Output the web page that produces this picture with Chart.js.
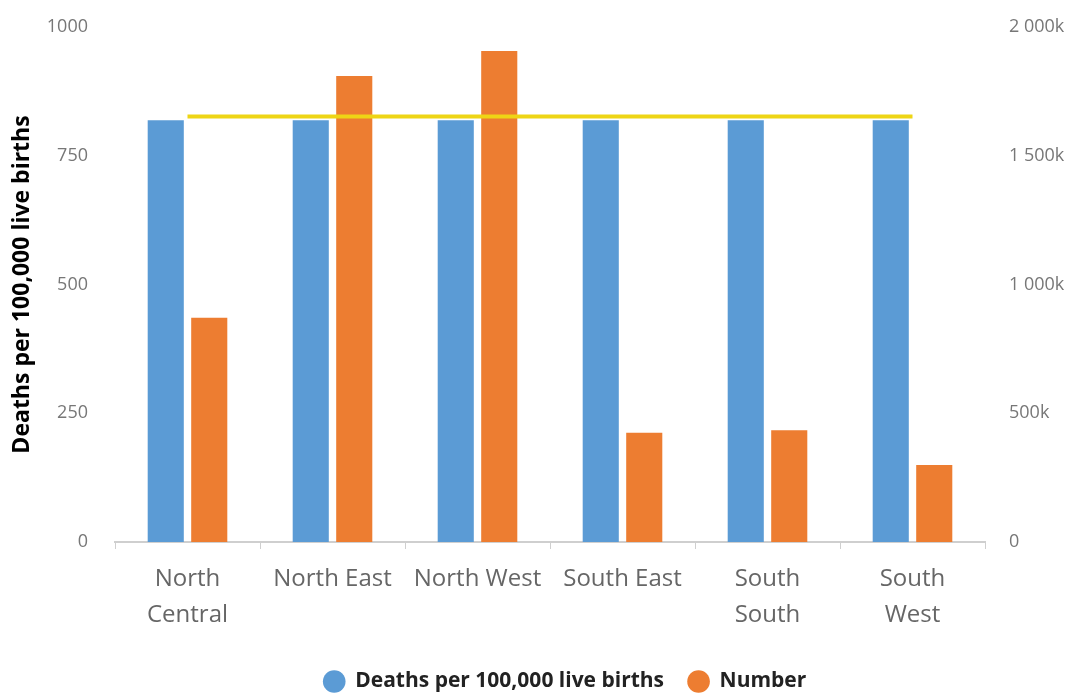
<!DOCTYPE html>
<html>
<head>
<meta charset="utf-8">
<script src="https://cdn.jsdelivr.net/npm/chart.js@4"></script>
<style>
  html, body { margin: 0; padding: 0; background: #fff; }
  #wrap { width: 1078px; height: 695px; position: relative; }
</style>
</head>
<body>
<div id="wrap"><canvas id="chart"></canvas></div>
<script>
// categories (zones)
var zones = [['North', 'Central'], 'North East', 'North West', 'South East', ['South', 'South'], ['South', 'West']];

// series values
var deathsPerBirths = [819, 819, 819, 819, 819, 819];
var numberDeaths = [871000, 1810000, 1907000, 424000, 434000, 299000];
var referenceLine = [826, 826, 826, 826, 826, 826];

// tick settings
var leftMax = 1000, leftStep = 250;
var rightMax = 2000000, rightStep = 500000;

function fmtK(v) {
    if (v === 0) return '0';
    return String(v / 1000).replace(/\B(?=(\d{3})+(?!\d))/g, ' ') + 'k';
}

// legend in the source sits a little right of centre
var legendShift = {
    id: 'legendShift',
    afterLayout: function (chart) {
        chart.legend.left += 26;
        chart.legend.right += 26;
    }
};

document.addEventListener('DOMContentLoaded', function () {
    var ctx = document.getElementById('chart').getContext('2d');

    var data = {
        labels: zones,
        datasets: [{
            type: 'line',
            label: 'Line',
            data: referenceLine,
            borderColor: '#eed515',
            borderWidth: 4,
            pointRadius: 0,
            yAxisID: 'y',
            order: 0
        }, {
            label: 'Deaths per 100,000 live births',
            data: deathsPerBirths,
            backgroundColor: '#5b9bd5',
            yAxisID: 'y',
            order: 1
        }, {
            label: 'Number',
            data: numberDeaths,
            backgroundColor: '#ed7d31',
            yAxisID: 'y1',
            order: 1
        }]
    };

    var options = {
        responsive: true,
        maintainAspectRatio: false,
        animation: false,
        categoryPercentage: 0.6,
        barPercentage: 0.83,
        layout: { padding: { top: 27, left: 0, right: 0, bottom: -7 } },
        plugins: {
            tooltip: { enabled: false },
            legend: {
                position: 'bottom',
                labels: {
                    usePointStyle: true,
                    pointStyle: 'circle',
                    boxHeight: 16,
                    padding: 24,
                    color: '#222',
                    font: { family: 'Open Sans', size: 21, weight: 'bold' },
                    filter: function (item) { return item.datasetIndex !== 0; }
                }
            }
        },
        scales: {
            x: {
                offset: true,
                grid: { display: true, drawOnChartArea: false, drawTicks: true, tickLength: 7, color: '#cfcfcf', offset: true },
                border: { display: true, color: '#cfcfcf', width: 2 },
                ticks: {
                    color: '#666',
                    padding: 12,
                    maxRotation: 0,
                    autoSkip: false,
                    font: { family: 'Open Sans', size: 24, lineHeight: 1.5 }
                },
                afterFit: function (scale) { scale.height = 105; }
            },
            y: {
                position: 'left',
                min: 0,
                max: leftMax,
                grid: { display: false, drawTicks: true, tickLength: 23 },
                border: { display: false },
                ticks: {
                    stepSize: leftStep,
                    color: '#777',
                    padding: 4,
                    font: { family: 'Open Sans', size: 18 },
                    callback: function (v) { return String(v); }
                },
                title: {
                    display: true,
                    text: 'Deaths per 100,000 live births',
                    color: '#000',
                    padding: { top: 9, bottom: 0 },
                    font: { family: 'Open Sans', size: 23, weight: 'bold' }
                },
                afterFit: function (scale) { scale.width = 115; }
            },
            y1: {
                position: 'right',
                min: 0,
                max: rightMax,
                grid: { display: false, drawTicks: true, tickLength: 20 },
                border: { display: false },
                ticks: {
                    stepSize: rightStep,
                    color: '#777',
                    padding: 4,
                    font: { family: 'Open Sans', size: 18 },
                    callback: function (v) { return fmtK(v); }
                },
                afterFit: function (scale) { scale.width = 93; }
            }
        }
    };

    new Chart(ctx, {
        type: 'bar',
        data: data,
        options: options,
        plugins: [legendShift]
    });
});
</script>
</body>
</html>
